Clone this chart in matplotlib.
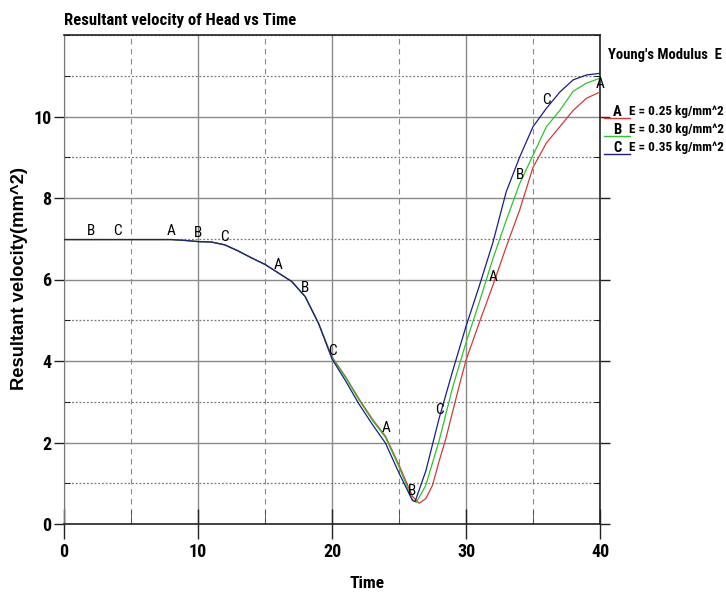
import matplotlib
matplotlib.use('Agg')
from matplotlib import pyplot as plt
from matplotlib import font_manager
from matplotlib.ticker import MultipleLocator
import numpy as np

# pick a narrow sans with a bold face (the chart uses an Arial Narrow look)
bold_names = {f.name for f in font_manager.fontManager.ttflist if f.weight in (700, 'bold')}
NARROW = 'Liberation Sans'
for cand in ['Liberation Sans Narrow', 'Arial Narrow', 'Roboto Condensed', 'PT Sans Narrow',
             'Archivo Narrow', 'IBM Plex Sans Condensed', 'Fira Sans Condensed',
             'Open Sans Condensed', 'Barlow Semi Condensed']:
    if cand in bold_names:
        NARROW = cand
        break
WIDE = 'Liberation Sans'

# common start (curves overlap until ~t=20)
t_common = [0, 8, 9, 10, 11, 12, 13, 14, 15, 16, 17, 18, 19]
v_common = [6.98, 6.98, 6.96, 6.93, 6.92, 6.85, 6.70, 6.53, 6.37, 6.16, 5.95, 5.58, 4.92]

# E = 0.25 (A, red)
t_a = [20, 21, 22, 23, 24, 25, 26, 26.5, 27, 27.5, 28, 28.5, 29, 29.5, 30, 31, 32, 33, 34, 35, 36, 37, 38, 39, 40]
v_a = [4.10, 3.62, 3.08, 2.58, 2.15, 1.45, 0.68, 0.51, 0.62, 0.95, 1.55, 2.10, 2.75, 3.40, 4.02, 4.95, 5.85, 6.80, 7.70, 8.75, 9.35, 9.75, 10.15, 10.45, 10.60]
# E = 0.30 (B, green)
t_b = [20, 21, 22, 23, 24, 25, 26, 26.3, 27, 28, 29, 30, 31, 32, 33, 34, 35, 36, 37, 38, 39, 40]
v_b = [4.08, 3.60, 3.05, 2.55, 2.12, 1.40, 0.60, 0.53, 0.95, 2.05, 3.35, 4.45, 5.45, 6.50, 7.45, 8.35, 9.05, 9.75, 10.15, 10.62, 10.82, 10.94]
# E = 0.35 (C, blue)
t_c = [20, 21, 22, 23, 24, 25, 26, 26.2, 27, 28, 29, 30, 31, 32, 33, 34, 35, 36, 37, 38, 39, 40]
v_c = [4.05, 3.52, 2.95, 2.45, 1.98, 1.25, 0.58, 0.55, 1.30, 2.60, 3.75, 4.85, 5.85, 6.90, 8.15, 9.00, 9.75, 10.20, 10.60, 10.90, 11.02, 11.06]

labels = ['A', 'B', 'C']
legend_text = ['E = 0.25 kg/mm^2', 'E = 0.30 kg/mm^2', 'E = 0.35 kg/mm^2']
colors = ['#d23a3a', '#2ec42e', '#1c1c8a']
label_offsets = [0, 2, 4]   # letter every 8 time units, shifted per curve

fig = plt.figure(figsize=(7.26, 5.94), dpi=100)
ax = fig.add_axes([64 / 726, 70 / 594, 536 / 726, 489 / 594])
renderer = fig.canvas.get_renderer()


def fit_width(txt, width_px, max_size=None):
    # scale font so the text spans width_px pixels like in the reference
    w = txt.get_window_extent(renderer=renderer).width
    size = txt.get_fontsize() * width_px / w
    if max_size is not None:
        size = min(size, max_size)
    txt.set_fontsize(size)


series = [(t_a, v_a), (t_b, v_b), (t_c, v_c)]
for (ts, vs), col, lab, off in zip(series, colors, labels, label_offsets):
    t_full = np.array(t_common + ts, dtype=float)
    v_full = np.array(v_common + vs, dtype=float)
    ax.plot(t_full, v_full, color=col, lw=0.9, zorder=3)
    for tl in np.arange(off, 40.1, 8):
        if tl == 0:
            continue
        vl = np.interp(tl, t_full, v_full)
        ax.annotate(lab, (tl, vl), xytext=(0, 6), textcoords='offset points',
                    ha='center', va='center', fontsize=11, family=NARROW, zorder=4)

ax.set_xlim(0, 40)
ax.set_ylim(0, 12)
ax.xaxis.set_major_locator(MultipleLocator(10))
ax.xaxis.set_minor_locator(MultipleLocator(5))
ax.yaxis.set_minor_locator(MultipleLocator(1))
ax.set_yticks([0, 2, 4, 6, 8, 10])

ax.grid(which='major', color='#8a8a8a', lw=1, ls='-', zorder=0)
ax.grid(which='minor', axis='x', color='#8a8a8a', lw=0.8, ls=(0, (5, 4)), zorder=0)
ax.grid(which='minor', axis='y', color='#7a7a7a', lw=0.9, ls=(0, (1.5, 1.5)), zorder=0)

ax.tick_params(axis='x', which='major', direction='inout', length=22, width=1, color='#222222', pad=3)
ax.tick_params(axis='x', which='minor', direction='in', length=10, color='#444444')
ax.tick_params(axis='y', which='major', direction='out', length=7, width=1, color='#222222',
               right=True, pad=2)
ax.tick_params(axis='y', which='minor', direction='in', length=4, right=True)
for lbl in ax.get_xticklabels() + ax.get_yticklabels():
    lbl.set_family(NARROW)
    lbl.set_fontweight('bold')
    lbl.set_fontsize(13)

ax.spines['left'].set_color('#777777')
for s in ['bottom', 'top', 'right']:
    ax.spines[s].set_color('#222222')
    ax.spines[s].set_linewidth(1.2)

fig.text(64 / 726, 1 - 21 / 594, 'Resultant velocity of Head vs Time', family=NARROW,
         fontweight='bold', fontsize=12, ha='left', va='center')
fig.text(367 / 726, 1 - 584 / 594, 'Time', family=NARROW, fontweight='bold', fontsize=12.5,
         ha='center', va='center')
ylab = fig.text(20 / 726, 1 - 279 / 594, 'Resultant velocity(mm^2)', family=WIDE, fontweight='bold',
                fontsize=12, rotation=90, ha='center', va='center')
w = ylab.get_window_extent(renderer=renderer).height
ylab.set_fontsize(12 * 222 / w)

# legend drawn by hand on the right
ltitle = fig.text(608 / 726, 1 - 55 / 594, "Young's Modulus  E", family=NARROW, fontweight='bold',
                  fontsize=12, ha='left', va='center')
fit_width(ltitle, 114, max_size=12.5)
for i, (lab, txt, col) in enumerate(zip(labels, legend_text, colors)):
    y = 1 - (112 + i * 18) / 594
    fig.text(617 / 726, y, lab, family=NARROW, fontweight='bold', fontsize=ltitle.get_fontsize(),
             ha='center', va='center')
    entry = fig.text(629 / 726, y, txt, family=NARROW, fontweight='bold', fontsize=12,
                     ha='left', va='center')
    fit_width(entry, 95, max_size=12.5)
    fig.add_artist(plt.Line2D([604 / 726, 630 / 726], [y - 6 / 594, y - 6 / 594], color=col, lw=1))

fig.savefig('out.png', dpi=100)
